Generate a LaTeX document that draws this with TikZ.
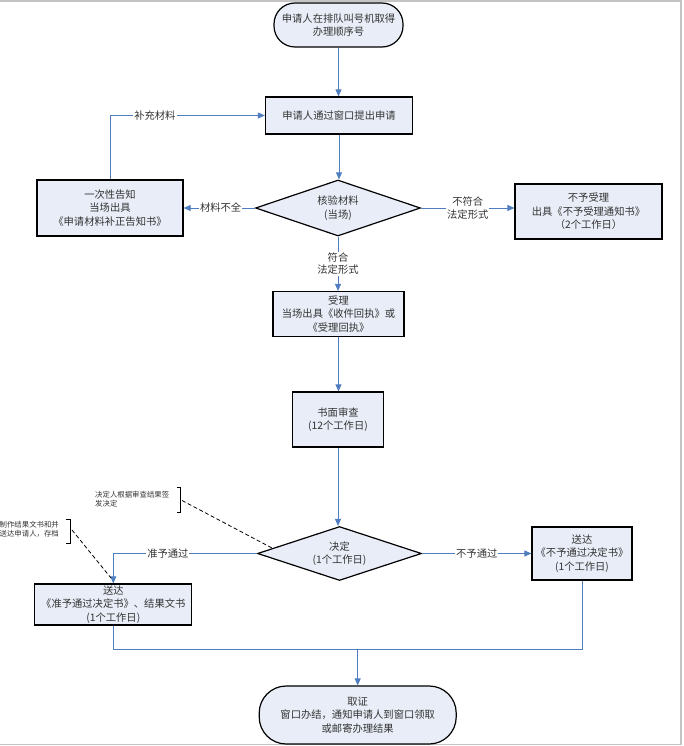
\documentclass[tikz,border=0pt]{standalone}
\usepackage{fontspec}
\setmainfont{Noto Sans CJK SC}
\usetikzlibrary{arrows.meta,shapes.geometric}
\definecolor{fillc}{HTML}{E8EDF7}
\definecolor{linec}{HTML}{4F7DBF}
\definecolor{txt}{HTML}{333333}
\definecolor{framec}{HTML}{C4C4C4}
\begin{document}
\begin{tikzpicture}[x=1pt,y=-1pt,
  box/.style={draw=black, line width=1.2pt, fill=fillc, text=txt, align=center,
    inner sep=0pt, font=\fontsize{10.3}{13.4}\selectfont},
  term/.style={box},
  dia/.style={box, diamond, shape aspect=3},
  conn/.style={draw=linec, line width=0.9pt},
  arr/.style={conn, -{Triangle[length=7pt,width=6pt]}},
  lab/.style={fill=white, text=txt, align=center, inner sep=1pt,
    font=\fontsize{10.3}{12.5}\selectfont},
  anno/.style={text=txt, align=left, inner sep=0pt, anchor=west,
    font=\fontsize{7.4}{9}\selectfont},
  brk/.style={draw=black, line width=0.8pt},
  dsh/.style={draw=black, line width=0.8pt, dash pattern=on 4pt off 2.5pt}
]
\useasboundingbox (0,0) rectangle (683,746);
% frame
\draw[framec, line width=1.2pt] (0,1) -- (681,1) -- (681,744.5) -- (0,744.5);

% nodes
\node[term, rounded corners=21pt, minimum width=129pt, minimum height=44pt] (s) at (338.5,25) {申请人在排队叫号机取得\\办理顺序号};
\node[box, minimum width=147pt, minimum height=37pt] (b1) at (339,115.5) {申请人通过窗口提出申请};
\node[dia, minimum width=165pt, minimum height=56pt] (d1) at (338,208) {核验材料\\(当场)};
\node[box, minimum width=146pt, minimum height=56pt] (lb) at (110,208) {一次性告知\\当场出具\\《申请材料补正告知书》};
\node[box, minimum width=147pt, minimum height=55pt] (rb) at (588.5,211.5) {不予受理\\出具《不予受理通知书》\\（2个工作日）};
\node[box, minimum width=131pt, minimum height=45pt] (b3) at (338.5,314) {受理\\当场出具《收件回执》或\\《受理回执》};
\node[box, minimum width=91pt, minimum height=55pt] (b4) at (338,419.5) {书面审查\\(12个工作日)};
\node[dia, minimum width=164pt, minimum height=54pt] (d2) at (339.5,553.5) {决定\\(1个工作日)};
\node[box, minimum width=100pt, minimum height=53pt] (rb2) at (582,553.5) {送达\\《不予通过决定书》\\(1个工作日)};
\node[box, minimum width=157pt, minimum height=41pt] (b5) at (113.3,604.5) {送达\\《准予通过决定书》、结果文书\\(1个工作日)};
\node[term, rounded corners=27pt, minimum width=197pt, minimum height=58pt] (e) at (357.7,715) {取证\\窗口办结，通知申请人到窗口领取\\或邮寄办理结果};
\coordinate (j) at (357.7,649);

% connectors
\draw[arr] (s.south) -- (s.south |- b1.north);
\draw[arr] (b1.south) -- (b1.south |- d1.north);
\draw[arr] (d1.west) -- (lb.east) node[lab, pos=0.48] {材料不全};
\draw[arr] (d1.east) -- (rb.west |- d1.east) node[lab, midway] {不符合\\法定形式};
\draw[arr] (lb.north) |- (b1.west) node[lab, pos=0.645] {补充材料};
\draw[arr] (d1.south) -- (d1.south |- b3.north) node[lab, midway] {符合\\法定形式};
\draw[arr] (b3.south) -- (b3.south |- b4.north);
\draw[arr] (b4.south) -- (b4.south |- d2.north);
\draw[arr] (d2.east) -- (rb2.west) node[lab, midway] {不予通过};
\draw[arr] (d2.west) -| (b5.north) node[lab, pos=0.31] {准予通过};
\draw[conn] (b5.south) |- (j);
\draw[conn] (rb2.south) |- (j);
\draw[arr] (j) -- (e.north);

% annotations
\node[anno] (n1) at (95,499.5) {决定人根据审查结果签\\发决定};
\draw[brk] (176.5,487.5) -- (180.5,487.5) -- (180.5,512.5) -- (176.5,512.5);
\coordinate (a1) at (182,500.5);
\coordinate (a1e) at (272,548);
\draw[dsh] (a1) -- (a1e);
\node[anno] (n2) at (-0.5,529.5) {制作结果文书和并\\送达申请人，存档};
\draw[brk] (66,519) -- (70.5,519) -- (70.5,543) -- (66,543);
\coordinate (a2) at (72,530);
\coordinate (a2e) at (111,578);
\draw[dsh] (a2) -- (a2e);
\end{tikzpicture}
\end{document}
